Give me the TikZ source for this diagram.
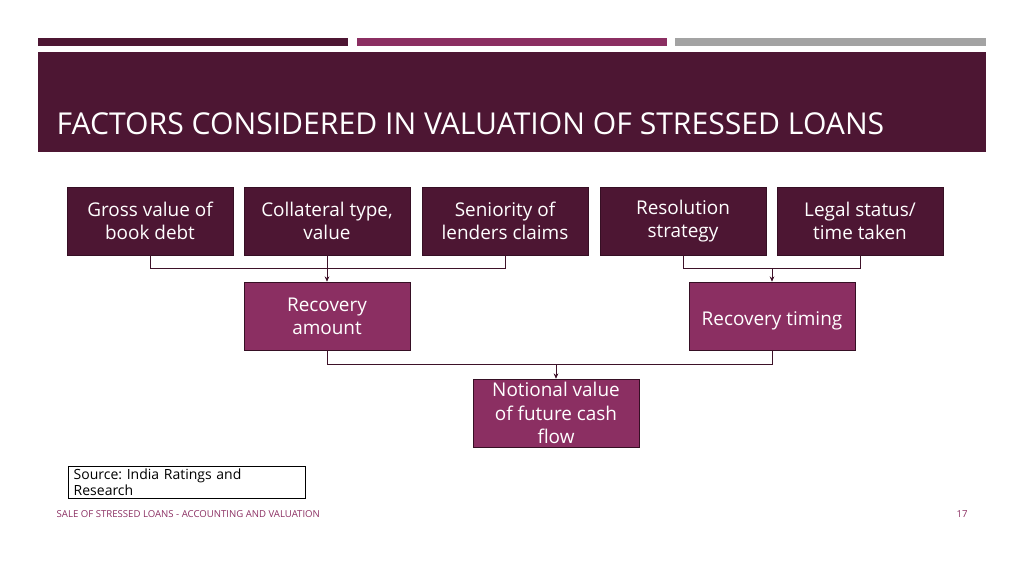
\documentclass[tikz,border=0pt]{standalone}
\usepackage{fontspec}
\setmainfont{Open Sans}
\usetikzlibrary{positioning,arrows.meta}
\definecolor{plum}{HTML}{4D1633}
\definecolor{rose}{HTML}{8B2F62}
\definecolor{bargray}{HTML}{A3A3A3}
\tikzset{
	factor/.style = {draw=plum!70!black, fill=plum, text=white, minimum width=124.5pt, minimum height=51pt, inner sep=2pt, align=center, font=\fontsize{14.2}{17.5}\selectfont, execute at begin node={\rule{0pt}{18pt}}},
	result/.style = {factor, fill=rose},
	link/.style   = {draw=plum!80!black, line width=0.6pt},
	tip/.style    = {link, -{Stealth[length=4pt,width=3.5pt]}},
}
\frenchspacing
\begin{document}
\begin{tikzpicture}[x=0.75pt,y=-0.75pt]
	\useasboundingbox (0,0) rectangle (1024,575);
	
	% --- cabecera ---
	\fill[plum] (38,38) rectangle (348,46);
	\fill[rose] (357,38) rectangle (667,46);
	\fill[bargray] (675,38) rectangle (986,46);
	\fill[plum] (38,52) rectangle (986,152);
	\node[anchor=west, text=white, font=\fontsize{22.6}{26}\selectfont] (title) at (52,124) {FACTORS CONSIDERED IN VALUATION OF STRESSED LOANS};
	
	% --- factores ---
	\node[factor] (gross) at (150,221) {Gross value of\\book debt};
	\node[factor] (coll)  at (327,221) {Collateral type,\\value};
	\node[factor] (sen)   at (505,221) {Seniority of\\lenders claims};
	\node[factor] (res)   at (683,221) {Resolution\\strategy};
	\node[factor] (legal) at (860,221) {Legal status/\\time taken};
	
	% --- resultados ---
	\node[result] (amount) at (327,316) {Recovery\\amount};
	\node[result] (timing) at (772,316) {Recovery timing};
	\node[result, inner ysep=0pt] (notional) at (556,413) {Notional value\\of future cash\\flow};
	
	% --- conectores ---
	\draw[link] (gross.south) |- (sen.south |- 0,268) -- (sen.south);
	\draw[tip] (coll.south) -- (amount.north);
	\draw[link] (res.south) |- (legal.south |- 0,268) -- (legal.south);
	\draw[tip] (timing.north |- 0,268) -- (timing.north);
	\draw[link] (amount.south) |- (timing.south |- 0,364) -- (timing.south);
	\draw[tip] (notional.north |- 0,364) -- (notional.north);
	
	% --- pie ---
	\node[draw, line width=0.6pt, anchor=north west, minimum width=178pt, minimum height=24pt, inner sep=2pt, align=left, text width=170pt, font=\fontsize{10.5}{12}\selectfont] (source) at (68,466) {Source: India Ratings and\\Research};
	\node[anchor=west, text=rose, font=\fontsize{7.2}{8}\selectfont] (footer) at (52,514) {SALE OF STRESSED LOANS - ACCOUNTING AND VALUATION};
	\node[text=rose, font=\fontsize{7.2}{8}\selectfont] (page) at (962,514) {17};
\end{tikzpicture}
\end{document}
